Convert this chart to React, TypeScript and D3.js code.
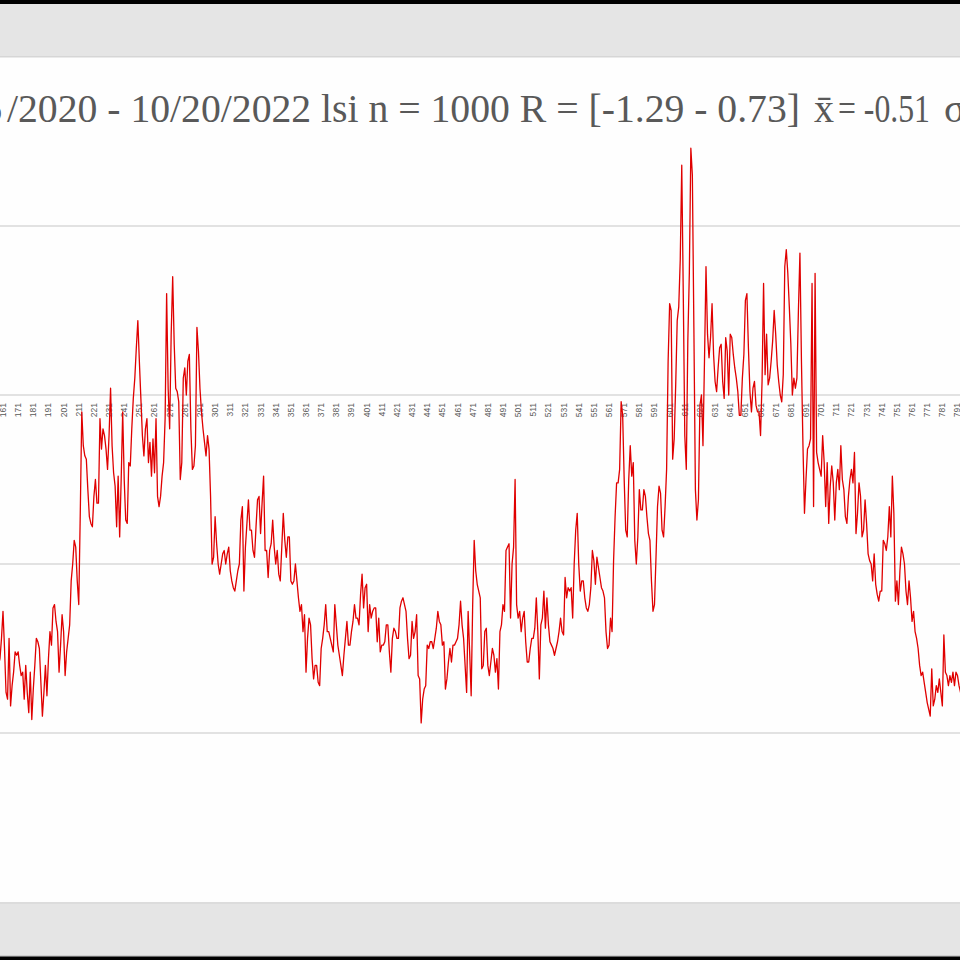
import * as d3 from 'd3';

// lsi values, one per day, starting at index FIRST_INDEX (only the visible window 158..794)
const FIRST_INDEX = 158;
const lsi: number[] = [
  -0.80, -0.78, -0.72, -0.64, -0.75, -0.88, -0.90, -0.72, -0.92, -0.86,
  -0.82, -0.76, -0.77, -0.76, -0.80, -0.83, -0.82, -0.90, -0.80, -0.88,
  -0.94, -0.82, -0.96, -0.87, -0.80, -0.72, -0.73, -0.75, -0.85, -0.95,
  -0.88, -0.80, -0.89, -0.78, -0.70, -0.74, -0.63, -0.62, -0.67, -0.70,
  -0.82, -0.74, -0.65, -0.70, -0.83, -0.76, -0.72, -0.68, -0.55, -0.50,
  -0.43, -0.45, -0.55, -0.62, -0.35, -0.05, -0.15, -0.18, -0.19, -0.28,
  -0.36, -0.38, -0.39, -0.30, -0.25, -0.32, -0.32, -0.07, -0.16, -0.10,
  -0.12, -0.16, -0.22, -0.12, 0.02, -0.15, -0.23, -0.27, -0.39, -0.24,
  -0.42, -0.25, -0.05, -0.25, -0.37, -0.38, -0.20, -0.21, -0.10, -0.01,
  0.05, 0.14, 0.22, 0.10, -0.01, -0.12, -0.18, -0.10, -0.07, -0.20,
  -0.14, -0.24, -0.13, -0.23, -0.07, -0.30, -0.33, -0.30, -0.24, -0.20,
  -0.07, 0.30, 0.02, -0.10, 0.18, 0.35, 0.15, 0.02, 0.01, -0.02,
  -0.25, -0.20, 0.05, 0.08, 0.00, 0.10, 0.12, -0.10, -0.22, -0.21,
  -0.15, 0.20, 0.13, 0.02, -0.05, -0.10, -0.14, -0.18, -0.12, -0.16,
  -0.30, -0.50, -0.48, -0.36, -0.44, -0.50, -0.53, -0.50, -0.47, -0.46,
  -0.50, -0.47, -0.45, -0.52, -0.55, -0.57, -0.58, -0.55, -0.52, -0.50,
  -0.37, -0.33, -0.58, -0.45, -0.38, -0.31, -0.40, -0.40, -0.46, -0.48,
  -0.39, -0.31, -0.30, -0.41, -0.32, -0.24, -0.46, -0.46, -0.54, -0.46,
  -0.44, -0.37, -0.45, -0.50, -0.46, -0.53, -0.55, -0.45, -0.35, -0.43,
  -0.48, -0.42, -0.42, -0.55, -0.56, -0.55, -0.50, -0.55, -0.60, -0.64,
  -0.62, -0.70, -0.65, -0.82, -0.72, -0.66, -0.68, -0.78, -0.84, -0.80,
  -0.80, -0.85, -0.86, -0.75, -0.72, -0.68, -0.62, -0.70, -0.70, -0.72,
  -0.74, -0.76, -0.62, -0.68, -0.74, -0.77, -0.80, -0.83, -0.77, -0.72,
  -0.67, -0.74, -0.74, -0.70, -0.67, -0.62, -0.66, -0.66, -0.68, -0.59,
  -0.53, -0.63, -0.57, -0.56, -0.70, -0.62, -0.66, -0.64, -0.63, -0.63,
  -0.73, -0.66, -0.76, -0.74, -0.74, -0.73, -0.68, -0.68, -0.76, -0.82,
  -0.72, -0.69, -0.70, -0.72, -0.72, -0.63, -0.61, -0.60, -0.62, -0.64,
  -0.72, -0.78, -0.77, -0.67, -0.72, -0.70, -0.65, -0.83, -0.84, -0.97,
  -0.90, -0.87, -0.86, -0.74, -0.75, -0.73, -0.73, -0.75, -0.72, -0.69,
  -0.64, -0.67, -0.68, -0.74, -0.73, -0.87, -0.84, -0.79, -0.75, -0.79,
  -0.74, -0.74, -0.73, -0.72, -0.68, -0.61, -0.68, -0.72, -0.80, -0.88,
  -0.64, -0.76, -0.89, -0.62, -0.43, -0.52, -0.56, -0.58, -0.60, -0.81,
  -0.80, -0.70, -0.69, -0.80, -0.83, -0.79, -0.75, -0.77, -0.82, -0.78,
  -0.87, -0.70, -0.68, -0.62, -0.64, -0.46, -0.45, -0.44, -0.66, -0.50,
  -0.45, -0.25, -0.62, -0.66, -0.64, -0.70, -0.66, -0.64, -0.73, -0.79,
  -0.79, -0.75, -0.72, -0.72, -0.69, -0.60, -0.70, -0.84, -0.68, -0.66,
  -0.58, -0.69, -0.60, -0.68, -0.73, -0.74, -0.75, -0.77, -0.75, -0.73,
  -0.70, -0.66, -0.70, -0.71, -0.54, -0.60, -0.57, -0.58, -0.57, -0.66,
  -0.50, -0.40, -0.35, -0.50, -0.58, -0.55, -0.55, -0.60, -0.63, -0.64,
  -0.62, -0.57, -0.46, -0.49, -0.56, -0.48, -0.51, -0.54, -0.57, -0.58,
  -0.60, -0.70, -0.75, -0.74, -0.66, -0.70, -0.49, -0.36, -0.26, -0.26,
  -0.22, -0.02, -0.06, -0.25, -0.40, -0.42, -0.25, -0.15, -0.24, -0.20,
  -0.43, -0.50, -0.42, -0.28, -0.34, -0.34, -0.28, -0.30, -0.36, -0.41,
  -0.43, -0.55, -0.64, -0.62, -0.48, -0.33, -0.27, -0.29, -0.40, -0.42,
  -0.33, -0.22, 0.10, 0.27, 0.25, -0.19, -0.13, 0.03, 0.22, 0.26,
  0.40, 0.68, 0.30, -0.12, -0.22, 0.16, 0.36, 0.73, 0.65, 0.20,
  -0.28, -0.37, -0.31, -0.03, 0.00, -0.15, 0.10, 0.38, 0.18, 0.11,
  0.17, 0.27, 0.12, 0.04, 0.01, 0.08, 0.14, 0.15, 0.04, -0.01,
  0.17, 0.13, 0.00, 0.18, 0.17, 0.12, 0.08, 0.05, 0.01, -0.06,
  -0.06, 0.05, 0.12, 0.28, 0.30, 0.14, 0.01, -0.05, 0.02, 0.04,
  -0.03, -0.05, -0.05, -0.12, 0.04, 0.33, 0.06, 0.18, 0.03, 0.05,
  0.10, 0.16, 0.25, 0.18, 0.09, 0.04, 0.00, -0.02, 0.06, 0.38,
  0.43, 0.36, 0.26, 0.15, 0.00, 0.05, 0.02, 0.05, 0.25, 0.42,
  0.10, -0.15, -0.35, -0.25, -0.16, -0.15, -0.13, 0.33, -0.33, 0.36,
  -0.17, -0.20, -0.22, -0.24, -0.12, -0.20, -0.33, -0.20, -0.38, -0.27,
  -0.21, -0.26, -0.37, -0.26, -0.22, -0.28, -0.15, -0.25, -0.28, -0.36,
  -0.38, -0.30, -0.25, -0.22, -0.26, -0.17, -0.41, -0.35, -0.26, -0.30,
  -0.42, -0.40, -0.31, -0.38, -0.47, -0.49, -0.50, -0.55, -0.47, -0.56,
  -0.59, -0.61, -0.58, -0.58, -0.43, -0.44, -0.46, -0.42, -0.33, -0.42,
  -0.24, -0.35, -0.61, -0.55, -0.62, -0.52, -0.45, -0.47, -0.50, -0.58,
  -0.62, -0.55, -0.60, -0.67, -0.64, -0.70, -0.72, -0.75, -0.80, -0.83,
  -0.82, -0.85, -0.88, -0.91, -0.93, -0.95, -0.81, -0.92, -0.90, -0.86,
  -0.88, -0.84, -0.88, -0.92, -0.71, -0.82, -0.83, -0.86, -0.83, -0.85,
  -0.82, -0.86, -0.82, -0.83, -0.86, -0.88, -0.92,
];

// value gridlines (0 is the category axis itself)
const gridValues = [0.5, -0.5, -1];
const axisValue = 0;

// category labels visible on the axis (every 10th day; 161 and 791 sit at the crop edges)
const tickLabels = [
  161, 171, 181, 191, 201, 211, 221, 231, 241, 251, 261, 271, 281, 291,
  301, 311, 321, 331, 341, 351, 361, 371, 381, 391, 401, 411, 421, 431, 441,
  451, 461, 471, 481, 491, 501, 511, 521, 531, 541, 551, 561, 571, 581, 591,
  601, 611, 621, 631, 641, 651, 661, 671, 681, 691, 701, 711, 721, 731, 741,
  751, 761, 771, 781, 791,
];

// title, cut off at both sides of the screenshot
const titleLead = '6';
const titleMain = '/2020 - 10/20/2022 lsi n = 1000 R = [-1.29 - 0.73]';
const titleMean = 'x\u0304';
const titleMeanValue = '= -0.51';
const titleTail = '\u03c3 = 0.45';

export default function App() {
  const width = 960;
  const height = 960;

  const x = d3.scaleLinear().domain([161, 791]).range([3, 957.5]);
  const y = d3.scaleLinear().domain([-1.5, 1]).range([902, 57]);

  const points = lsi.map((v, k) => ({ day: FIRST_INDEX + k, value: v }));
  const line = d3
    .line<{ day: number; value: number }>()
    .x((d) => x(d.day))
    .y((d) => y(d.value));

  return (
    <div style={{ position: 'fixed', left: 0, top: 0 }}>
      <svg width={width} height={height} viewBox={`0 0 ${width} ${height}`} style={{ display: 'block' }}>
        <rect x={0} y={0} width={width} height={height} fill="#000" />
        <rect x={0} y={4} width={width} height={53} fill="#e5e5e5" />
        <rect x={0} y={y(1)} width={width} height={y(-1.5) - y(1)} fill="#fefefe" />
        <rect x={0} y={y(1) - 1} width={width} height={1.5} fill="#d6d6d6" />
        <rect x={0} y={y(-1.5)} width={width} height={53} fill="#e5e5e5" />
        <rect x={0} y={y(-1.5)} width={width} height={2} fill="#dcdcdc" />
        <rect x={0} y={y(-1.5) + 53} width={width} height={1.5} fill="#cfcfcf" />

        {gridValues.map((g) => (
          <line key={g} x1={0} x2={width} y1={y(g)} y2={y(g)} stroke="#d9d9d9" strokeWidth={1.5} />
        ))}
        <line x1={0} x2={width} y1={y(axisValue)} y2={y(axisValue)} stroke="#d9d9d9" strokeWidth={1.5} />

        <g fontFamily="'Liberation Sans', Arial, sans-serif" fontSize={8.5} fill="#595959">
          {tickLabels.map((t) => (
            <text
              key={t}
              transform={`translate(${x(t)},${y(axisValue) + 8}) rotate(-90)`}
              textAnchor="end"
              dy="0.35em"
            >
              {t}
            </text>
          ))}
        </g>

        <g fontFamily="'Liberation Serif', 'DejaVu Serif', serif" fontSize={40} fill="#595959">
          <text x={2} y={122} textAnchor="end">{titleLead}</text>
          <text x={7} y={122} textLength={793} lengthAdjust="spacingAndGlyphs">{titleMain}</text>
          <text x={814} y={122}>{titleMean}</text>
          <text x={838} y={122} textLength={92} lengthAdjust="spacingAndGlyphs">{titleMeanValue}</text>
          <text x={944} y={122}>{titleTail}</text>
        </g>

        <path
          d={line(points) ?? ''}
          fill="none"
          stroke="#e00000"
          strokeWidth={1.3}
          strokeLinejoin="round"
        />
      </svg>
    </div>
  );
}
